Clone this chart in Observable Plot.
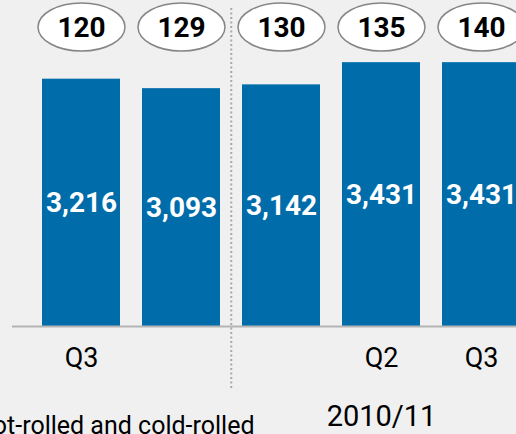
<!DOCTYPE html>
<html><head><meta charset="utf-8">
<script src="https://cdn.jsdelivr.net/npm/d3@7"></script>
<script src="https://cdn.jsdelivr.net/npm/@observablehq/plot@0.6"></script>
<style>
html,body{margin:0;padding:0;background:#f0f0f0;overflow:hidden}
svg{display:block}
</style></head><body><div id="chart"></div>
<script>
const periods = ["Q3 2009/10","Q4 2009/10","Q1 2010/11","Q2 2010/11","Q3 2010/11"];
const tickLabels = ["Q3","","","Q2","Q3"];
const shipments = [3216,3093,3142,3431,3431];
const bubbleValues = [120,129,130,135,140];
const yearLabel = "2010/11";
const yearPeriod = "Q2 2010/11";
const dividerPeriod = "Q1 2010/11";
const caption = "Hot-rolled and cold-rolled";

const rows = periods.map((p, i) => ({period: p, tick: tickLabels[i], value: shipments[i], bubble: bubbleValues[i]}));

// custom ellipse symbol for the bubbles
const ellipse = {
  draw(context, size) {
    const r = Math.sqrt(size / Math.PI);
    const rx = r, ry = r * 24 / 43.5, k = 0.5522847498;
    context.moveTo(rx, 0);
    context.bezierCurveTo(rx, ry * k, rx * k, ry, 0, ry);
    context.bezierCurveTo(-rx * k, ry, -rx, ry * k, -rx, 0);
    context.bezierCurveTo(-rx, -ry * k, -rx * k, -ry, 0, -ry);
    context.bezierCurveTo(rx * k, -ry, rx, -ry * k, rx, 0);
    context.closePath();
  }
};

const chart = Plot.plot({
  width: 516,
  height: 434,
  marginTop: 8,
  marginBottom: 46,
  marginLeft: 12,
  marginRight: 0,
  style: {fontFamily: "Roboto", background: "#f0f0f0", overflow: "hidden"},
  x: {domain: periods, range: [41, 521], paddingInner: 0.224, paddingOuter: 0, axis: null},
  y: {domain: [0, 4000], range: [326, 18.4], axis: null},
  marks: [
    Plot.barY(rows, {x: "period", y: "value", fill: "#006caa"}),
    Plot.ruleY([0], {stroke: "#b4b4b4", strokeWidth: 2}),
    Plot.ruleX([dividerPeriod], {x: d => d, dx: -50.25, stroke: "#a8a8a8", strokeWidth: 2, strokeDasharray: "2,2.5"}),
    Plot.text(rows, {x: "period", y: d => d.value / 2, text: d => d3.format(",")(d.value), fill: "white", fontWeight: "bold", fontSize: 28}),
    Plot.dot(rows, {x: "period", frameAnchor: "top", dy: 18.5, r: 43.5, symbol: ellipse, fill: "white", stroke: "#858585", strokeWidth: 1.5}),
    Plot.text(rows, {x: "period", frameAnchor: "top", lineAnchor: "middle", dy: 20, text: d => String(d.bubble), fontWeight: "bold", fontSize: 28, fill: "black"}),
    Plot.text(rows, {x: "period", frameAnchor: "top", lineAnchor: "middle", dy: 350, text: "tick", fontSize: 27, fill: "black"}),
    Plot.text([yearLabel], {x: () => yearPeriod, frameAnchor: "top", lineAnchor: "middle", dy: 408, text: d => d, fontSize: 29, fill: "black"}),
    Plot.text([caption], {x: () => dividerPeriod, frameAnchor: "top", lineAnchor: "middle", dy: 417, dx: -27, textAnchor: "end", text: d => d, fontSize: 25, fill: "black"})
  ]
});
document.getElementById("chart").appendChild(chart);
</script>
</body></html>
